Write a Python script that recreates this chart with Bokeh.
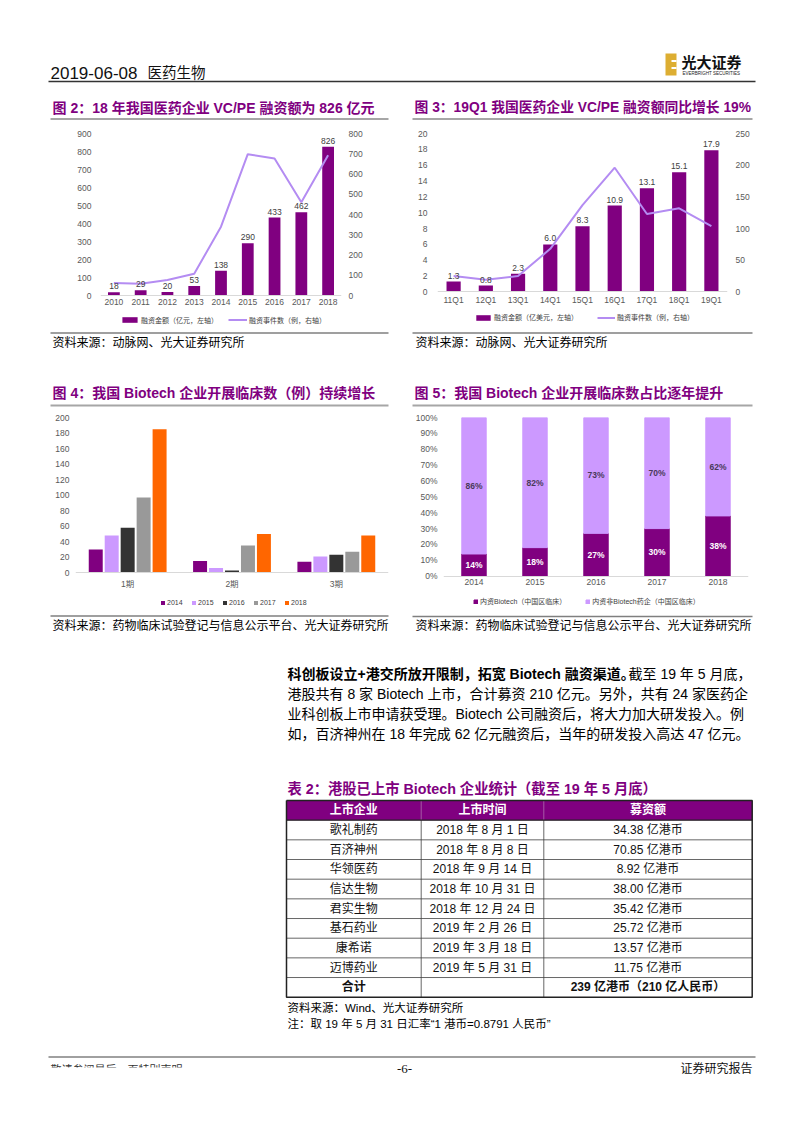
from bokeh.plotting import figure
from bokeh.models import (Range1d, LinearAxis, FixedTicker, Legend, LegendItem,
                          LabelSet, ColumnDataSource)
from bokeh.transform import dodge
from bokeh.layouts import column, row
from bokeh.embed import file_html
from bokeh.resources import INLINE
from bokeh.core.properties import value

SANS = "'Liberation Sans', 'Noto Sans CJK SC', sans-serif"
NARROW = "'Liberation Sans Narrow', 'Liberation Sans', 'Noto Sans CJK SC', sans-serif"
SERIF = "'Liberation Serif', 'Noto Sans CJK SC', serif"
PURPLE = "#800080"
LAV = "#CC99FF"
LAV_LINE = "#B48CF2"
TICK = "#595959"

# ---------------- data ----------------
years2 = ["2010", "2011", "2012", "2013", "2014", "2015", "2016", "2017", "2018"]
amount2 = [18, 29, 20, 53, 138, 290, 433, 462, 826]
events2 = [62, 58, 77, 107, 340, 698, 677, 460, 693]

quarters3 = ["11Q1", "12Q1", "13Q1", "14Q1", "15Q1", "16Q1", "17Q1", "18Q1", "19Q1"]
amount3 = [1.3, 0.8, 2.3, 6.0, 8.3, 10.9, 13.1, 15.1, 17.9]
events3 = [25, 19, 25, 68, 137, 196, 123, 132, 104]

phases4 = ["1期", "2期", "3期"]
years4 = ["2014", "2015", "2016", "2017", "2018"]
trials2014 = [30, 15, 14]
trials2015 = [48, 6, 21]
trials2016 = [58, 3, 23]
trials2017 = [97, 35, 27]
trials2018 = [185, 50, 48]

years5 = ["2014", "2015", "2016", "2017", "2018"]
biotech5 = [14, 18, 27, 30, 38]
nonbiotech5 = [86, 82, 73, 70, 62]

companies = ["歌礼制药", "百济神州", "华领医药", "信达生物", "君实生物", "基石药业", "康希诺", "迈博药业"]
list_dates = ["2018 年 8 月 1 日", "2018 年 8 月 8 日", "2018 年 9 月 14 日", "2018 年 10 月 31 日",
              "2018 年 12 月 24 日", "2019 年 2 月 26 日", "2019 年 3 月 18 日", "2019 年 5 月 31 日"]
raised_hkd = [34.38, 70.85, 8.92, 38.00, 35.42, 25.72, 13.57, 11.75]
total_hkd = 239
total_rmb = 210

PAGE_W = 794


# ---------------- helpers ----------------
def canvas(y_top, y_bot):
    p = figure(width=PAGE_W, height=y_bot - y_top, x_range=Range1d(0, PAGE_W),
               y_range=Range1d(y_bot, y_top), x_axis_location=None, y_axis_location=None,
               output_backend="svg", toolbar_location=None, min_border=0,
               outline_line_color=None)
    p.grid.visible = False
    return p


def txt(p, x, y, s, size, color="#000000", font=SANS, bold=False, align="left"):
    p.text(x=[x], y=[y], text=[s], text_font=value(font), text_font_size=f"{size}px",
           text_color=color, text_font_style="bold" if bold else "normal",
           text_align=align, text_baseline="middle")


def hline(p, x0, x1, y, color, width):
    p.line([x0, x1], [y, y], line_color=color, line_width=width)


def style_axis(ax, standoff, line=None):
    ax.axis_line_color = line
    ax.major_tick_line_color = None
    ax.minor_tick_line_color = None
    ax.major_tick_out = 0
    ax.major_tick_in = 0
    ax.minor_tick_out = 0
    ax.minor_tick_in = 0
    ax.major_label_text_font = SANS
    ax.major_label_text_font_size = "8.5px"
    ax.major_label_text_color = TICK
    ax.major_label_standoff = standoff


def chart(width, height, x_range, ymax, left, right, top, zero_px, extra_px):
    # frame: `zero_px` pixels from top to the zero line, `extra_px` below it for legend
    y_range = Range1d(-ymax * extra_px / zero_px, ymax)
    p = figure(width=width, height=height, x_range=x_range, y_range=y_range,
               output_backend="svg", toolbar_location=None,
               min_border_left=left, min_border_right=right,
               min_border_top=top, min_border_bottom=0, outline_line_color=None)
    p.grid.visible = False
    p.xaxis.fixed_location = 0
    return p


def add_legend(p, items, vx, vy, gw, gh, spacing):
    lg = Legend(items=items, location=(vx, vy), orientation="horizontal",
                label_text_font=SANS, label_text_font_size="7px", label_text_color="#404040",
                glyph_width=gw, glyph_height=gh, label_height=9, label_standoff=2,
                spacing=spacing, padding=0, margin=0, border_line_color=None,
                background_fill_alpha=0)
    p.add_layout(lg)


# ---------------- header ----------------
hdr = canvas(0, 125)
txt(hdr, 50, 72, "2019-06-08", 17, "#111111", NARROW)
txt(hdr, 147, 72, "医药生物", 14.5, "#111111")
hline(hdr, 48, 755, 81, "#333333", 1.5)
hdr.quad(left=[665], right=[676], top=[53], bottom=[75], fill_color="#DDAE32", line_color=None)
hdr.quad(left=[671, 671], right=[676, 676], top=[59.5, 66.5], bottom=[61.5, 68.5],
         fill_color="white", line_color=None)
txt(hdr, 681, 62, "光大证券", 15, "#111111", bold=True)
txt(hdr, 682, 73, "EVERBRIGHT SECURITIES", 4.5, "#222222")
txt(hdr, 52, 107, "图 2：18 年我国医药企业 VC/PE 融资额为 826 亿元", 14, PURPLE, bold=True)
txt(hdr, 414, 107, "图 3：19Q1 我国医药企业 VC/PE 融资额同比增长 19%", 13.8, PURPLE, bold=True)
hline(hdr, 50, 388, 118.5, "#A6A6A6", 2)
hline(hdr, 412, 752, 118.5, "#A6A6A6", 2)

# ---------------- chart 2 ----------------
p2 = chart(403, 205, years2, 900, 100, 62, 8, 162, 35)
p2.extra_y_ranges = {"r": Range1d(-800 * 35 / 162, 800)}
p2.add_layout(LinearAxis(y_range_name="r"), "right")
src2 = ColumnDataSource(dict(x=years2, top=amount2, ev=events2, lbl=[str(v) for v in amount2]))
b2 = p2.vbar(x="x", top="top", width=0.44, source=src2, fill_color=PURPLE, line_color=None)
l2 = p2.line(x="x", y="ev", source=src2, y_range_name="r", line_color=LAV_LINE, line_width=2)
p2.add_layout(LabelSet(x="x", y="top", text="lbl", source=src2, y_offset=3,
                       text_align="center", text_baseline="bottom", text_font=value(SANS),
                       text_font_size="8.5px", text_color="#404040"))
p2.yaxis[0].ticker = FixedTicker(ticks=list(range(0, 901, 100)))
p2.yaxis[1].ticker = FixedTicker(ticks=list(range(0, 801, 100)))
style_axis(p2.yaxis[0], 9)
style_axis(p2.yaxis[1], 7)
style_axis(p2.xaxis[0], 3, "#D9D9D9")
add_legend(p2, [LegendItem(label="融资金额（亿元，左轴）", renderers=[b2]),
                LegendItem(label="融资事件数（例，右轴）", renderers=[l2])],
           20, 5.5, 19, 7, 10)

# ---------------- chart 3 ----------------
p3 = chart(391, 205, quarters3, 20, 34, 67, 8, 158.4, 38.6)
p3.extra_y_ranges = {"r": Range1d(-250 * 38.6 / 158.4, 250)}
p3.add_layout(LinearAxis(y_range_name="r"), "right")
src3 = ColumnDataSource(dict(x=quarters3, top=amount3, ev=events3, lbl=[f"{v:.1f}" for v in amount3]))
b3 = p3.vbar(x="x", top="top", width=0.44, source=src3, fill_color=PURPLE, line_color=None)
l3 = p3.line(x="x", y="ev", source=src3, y_range_name="r", line_color=LAV_LINE, line_width=2)
p3.add_layout(LabelSet(x="x", y="top", text="lbl", source=src3, y_offset=3,
                       text_align="center", text_baseline="bottom", text_font=value(SANS),
                       text_font_size="8.5px", text_color="#404040"))
p3.yaxis[0].ticker = FixedTicker(ticks=list(range(0, 21, 2)))
p3.yaxis[1].ticker = FixedTicker(ticks=list(range(0, 251, 50)))
style_axis(p3.yaxis[0], 10)
style_axis(p3.yaxis[1], 8)
style_axis(p3.xaxis[0], 3, "#D9D9D9")
add_legend(p3, [LegendItem(label="融资金额（亿美元，左轴）", renderers=[b3]),
                LegendItem(label="融资事件数（例，右轴）", renderers=[l3])],
           37, 7.8, 18, 7, 19)

# ---------------- middle band ----------------
mid = canvas(330, 410)
hline(mid, 50, 388, 332.5, "#7F7F7F", 1.5)
hline(mid, 412, 752, 332.5, "#7F7F7F", 1.5)
txt(mid, 52, 342.5, "资料来源：动脉网、光大证券研究所", 12)
txt(mid, 415, 342.5, "资料来源：动脉网、光大证券研究所", 12)
txt(mid, 52, 392, "图 4：我国 Biotech 企业开展临床数（例）持续增长", 14, PURPLE, bold=True)
txt(mid, 414, 392, "图 5：我国 Biotech 企业开展临床数占比逐年提升", 14, PURPLE, bold=True)
hline(mid, 50, 388, 405, "#A6A6A6", 2)
hline(mid, 412, 752, 405, "#A6A6A6", 2)

# ---------------- chart 4 ----------------
p4 = chart(403, 204, phases4, 200, 75, 15, 6, 156, 42)
src4 = ColumnDataSource(dict(phase=phases4, y2014=trials2014, y2015=trials2015,
                             y2016=trials2016, y2017=trials2017, y2018=trials2018))
colors4 = [PURPLE, LAV, "#333333", "#999999", "#FF6600"]
offsets4 = [-0.306, -0.153, 0.0, 0.153, 0.306]
items4 = []
for yr, c, off in zip(years4, colors4, offsets4):
    r = p4.vbar(x=dodge("phase", off, range=p4.x_range), top="y" + yr, width=0.134,
                source=src4, fill_color=c, line_color=None)
    items4.append(LegendItem(label=yr, renderers=[r]))
p4.yaxis[0].ticker = FixedTicker(ticks=list(range(0, 201, 20)))
style_axis(p4.yaxis[0], 6)
style_axis(p4.xaxis[0], 6, "#D9D9D9")
add_legend(p4, items4, 85, 7.2, 5, 5, 4)

# ---------------- chart 5 ----------------
p5 = chart(391, 204, years5, 100, 40, 46, 7, 158.7, 38.3)
src5 = ColumnDataSource(dict(year=years5, bio=biotech5, non=nonbiotech5,
                             bio_mid=[b / 2 for b in biotech5],
                             non_mid=[b + n / 2 for b, n in zip(biotech5, nonbiotech5)],
                             bio_lbl=[f"{b}%" for b in biotech5],
                             non_lbl=[f"{n}%" for n in nonbiotech5]))
rs5 = p5.vbar_stack(["bio", "non"], x="year", width=0.4, color=[PURPLE, LAV], source=src5)
p5.add_layout(LabelSet(x="year", y="bio_mid", text="bio_lbl", source=src5, text_align="center",
                       text_baseline="middle", text_font=value(SANS), text_font_style="bold",
                       text_font_size="8.5px", text_color="white"))
p5.add_layout(LabelSet(x="year", y="non_mid", text="non_lbl", source=src5, text_align="center",
                       text_baseline="middle", text_font=value(SANS), text_font_style="bold",
                       text_font_size="8.5px", text_color="#4A3A5A"))
p5.yaxis[0].ticker = FixedTicker(ticks=list(range(0, 101, 10)))
p5.yaxis[0].major_label_overrides = {t: f"{t}%" for t in range(0, 101, 10)}
style_axis(p5.yaxis[0], 6)
style_axis(p5.xaxis[0], 3, "#D9D9D9")
add_legend(p5, [LegendItem(label="内资Biotech（中国区临床）", renderers=[rs5[0]]),
                LegendItem(label="内资非Biotech药企（中国区临床）", renderers=[rs5[1]])],
           30, 7.8, 5, 5, 19)

# ---------------- lower part ----------------
low = canvas(614, 1125)
hline(low, 50, 388, 615.5, "#7F7F7F", 1.5)
hline(low, 412, 752, 616, "#7F7F7F", 1.5)
txt(low, 52, 625.5, "资料来源：药物临床试验登记与信息公示平台、光大证券研究所", 12)
txt(low, 415, 625.5, "资料来源：药物临床试验登记与信息公示平台、光大证券研究所", 12)

txt(low, 287, 673.5, "科创板设立+港交所放开限制，拓宽 Biotech 融资渠道。", 14, bold=True)
txt(low, 628, 673.5, "截至 19 年 5 月底，", 14)
txt(low, 287, 693.5, "港股共有 8 家 Biotech 上市，合计募资 210 亿元。另外，共有 24 家医药企", 14)
txt(low, 287, 713.5, "业科创板上市申请获受理。Biotech  公司融资后，将大力加大研发投入。例", 14)
txt(low, 287, 733.5, "如，百济神州在 18 年完成 62 亿元融资后，当年的研发投入高达 47 亿元。", 14)

txt(low, 287, 788.5, "表 2：港股已上市 Biotech 企业统计（截至 19 年 5 月底）", 14.3, PURPLE, bold=True)

# table
tx = [286, 420.7, 543.3, 751.7]
ty0, rh = 800, 19.67
nrows = len(companies) + 2
ty1 = ty0 + nrows * rh
low.quad(left=[tx[0]], right=[tx[3]], top=[ty0], bottom=[ty0 + rh], fill_color=PURPLE, line_color=None)
for i in range(2, nrows):
    hline(low, tx[0], tx[3], ty0 + i * rh, "#404040", 0.8)
for xv in tx[1:3]:
    low.line([xv, xv], [ty0 + rh, ty1], line_color="#404040", line_width=0.8)
    low.line([xv, xv], [ty0, ty0 + rh], line_color="#B070B0", line_width=0.8)
low.line([tx[0], tx[3], tx[3], tx[0], tx[0]], [ty0, ty0, ty1, ty1, ty0], line_color="#222222", line_width=1.5)
hline(low, tx[0], tx[3], ty0 + rh, "#222222", 1.2)
cx = [(tx[0] + tx[1]) / 2, (tx[1] + tx[2]) / 2, (tx[2] + tx[3]) / 2]
for j, h in enumerate(["上市企业", "上市时间", "募资额"]):
    txt(low, cx[j], ty0 + rh / 2, h, 12, "white", bold=True, align="center")
for i, (c, d, v) in enumerate(zip(companies, list_dates, raised_hkd)):
    yy = ty0 + (i + 1.5) * rh
    txt(low, cx[0], yy, c, 12, "#111111", align="center")
    txt(low, cx[1], yy, d, 12, "#111111", align="center")
    txt(low, cx[2], yy, f"{v:.2f} 亿港币", 12, "#111111", align="center")
yy = ty0 + (nrows - 0.5) * rh
txt(low, cx[0], yy, "合计", 12, "#111111", bold=True, align="center")
txt(low, cx[2], yy, f"{total_hkd} 亿港币（{total_rmb} 亿人民币）", 12, "#111111", bold=True, align="center")

txt(low, 287, 1007, "资料来源：Wind、光大证券研究所", 11.5)
txt(low, 287, 1023.5, "注：取 19 年 5 月 31 日汇率“1 港币=0.8791 人民币”", 11.5)

# footer
hline(low, 48, 755, 1056.5, "#808080", 1.5)
txt(low, 50, 1069, "敬请参阅最后一页特别声明", 11, "#333333")
low.quad(left=[45], right=[200], top=[1067], bottom=[1080], fill_color="white", line_color=None)
txt(low, 404, 1068, "-6-", 13, "#111111", SERIF, align="center")
txt(low, 752, 1068, "证券研究报告", 12, "#111111", align="right")

page = column(hdr, row(p2, p3), mid, row(p4, p5), low)
open("out.html", "w").write(file_html(page, INLINE))
